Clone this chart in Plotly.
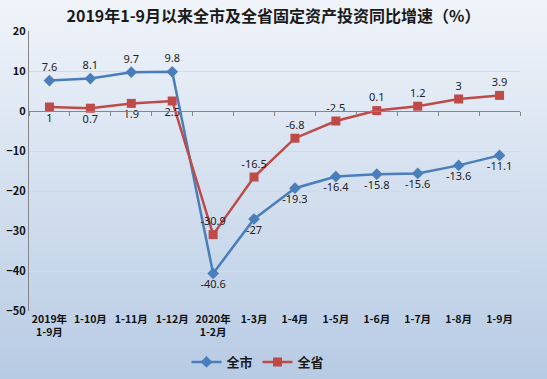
import zlib, struct, base64
import plotly.graph_objects as go

categories = ["2019年<br>1-9月", "1-10月", "1-11月", "1-12月", "2020年<br>1-2月",
              "1-3月", "1-4月", "1-5月", "1-6月", "1-7月", "1-8月", "1-9月"]
city = [7.6, 8.1, 9.7, 9.8, -40.6, -27, -19.3, -16.4, -15.8, -15.6, -13.6, -11.1]
province = [1, 0.7, 1.9, 2.5, -30.9, -16.5, -6.8, -2.5, 0.1, 1.2, 3, 3.9]
city_pos = ["top center"] * 4 + ["bottom center"] * 8
prov_pos = ["bottom center"] * 4 + ["top center"] * 8

W, H = 547, 379

# vertical gradient background as a tiny PNG
def make_png(w, h, rows):
    raw = b"".join(b"\x00" + bytes(r) for r in rows)
    def chunk(t, d):
        c = struct.pack(">I", len(d)) + t + d
        return c + struct.pack(">I", zlib.crc32(t + d) & 0xffffffff)
    return (b"\x89PNG\r\n\x1a\n" + chunk(b"IHDR", struct.pack(">IIBBBBB", w, h, 8, 2, 0, 0, 0))
            + chunk(b"IDAT", zlib.compress(raw)) + chunk(b"IEND", b""))

top = (240, 244, 250)
bot = (183, 203, 228)
rows = []
for yy in range(H):
    t = yy / (H - 1)
    c = [int(round(top[i] + (bot[i] - top[i]) * t)) for i in range(3)]
    rows.append(c * 4)
png = make_png(4, H, rows)
uri = "data:image/png;base64," + base64.b64encode(png).decode()

x0, x1 = 29 / W, 520 / W
y0, y1 = 1 - 311 / H, 1 - 31 / H
zero_pos = y0 + (50 / 70) * (y1 - y0)

font = "Noto Sans CJK SC, DejaVu Sans, sans-serif"
lbl_font = "Noto Sans, DejaVu Sans, sans-serif"

fig = go.Figure()
fig.add_trace(go.Scatter(
    x=categories, y=city, name="全市", mode="lines+markers+text",
    line=dict(color="#4A7EBB", width=2.5),
    marker=dict(symbol="diamond", size=9, color="#4A7EBB"),
    text=[str(v) for v in city], textposition=city_pos,
    textfont=dict(size=11, color="#222222", family=lbl_font),
    cliponaxis=False, xaxis="x", yaxis="y"))
fig.add_trace(go.Scatter(
    x=categories, y=province, name="全省", mode="lines+markers+text",
    line=dict(color="#BE4B48", width=2.5),
    marker=dict(symbol="square", size=9, color="#BE4B48"),
    text=[str(v) for v in province], textposition=prov_pos,
    textfont=dict(size=11, color="#222222", family=lbl_font),
    cliponaxis=False, xaxis="x", yaxis="y"))
# ghost trace carrying the bottom category labels
fig.add_trace(go.Scatter(
    x=categories, y=city, mode="markers", marker=dict(opacity=0),
    showlegend=False, hoverinfo="skip", xaxis="x2", yaxis="y"))

fig.update_layout(
    width=W, height=H,
    margin=dict(l=0, r=0, t=0, b=0),
    paper_bgcolor="rgba(0,0,0,0)",
    plot_bgcolor="white",
    images=[dict(source=uri, xref="paper", yref="paper", x=0, y=1,
                 sizex=1, sizey=1, sizing="stretch", layer="below",
                 xanchor="left", yanchor="top")],
    title=dict(text="<b>2019年1-9月以来全市及全省固定资产投资同比增速（%）</b>",
               x=0.5, xanchor="center", y=1 - 16 / H, yanchor="middle",
               font=dict(family=font, size=16, color="#1a1a1a")),
    xaxis=dict(domain=[x0, x1], type="category", range=[-0.5, 11.5],
               anchor="free", position=zero_pos,
               showline=True, linecolor="#868686", linewidth=1,
               ticks="outside", ticklen=4, tickcolor="#868686", tickson="boundaries",
               showticklabels=False, showgrid=False, zeroline=False, automargin=False),
    xaxis2=dict(domain=[x0, x1], type="category", range=[-0.5, 11.5],
                overlaying="x", anchor="y", side="bottom", matches="x",
                showline=False, ticks="", showgrid=False, zeroline=False,
                tickfont=dict(family=font, size=10.5, color="#111111", weight="bold"),
                automargin=False),
    yaxis=dict(domain=[y0, y1], range=[-50, 20], dtick=10,
               showgrid=True, gridcolor="#D0DAE8", gridwidth=1,
               zeroline=False, showline=True, linecolor="#868686",
               ticks="", tickfont=dict(family=font, size=11, color="#111111", weight="bold"),
               automargin=False),
    legend=dict(orientation="h", x=258 / W, xanchor="center", y=1 - 362 / H, yanchor="middle",
                font=dict(family=font, size=13, color="#1a1a1a", weight="bold"),
                bgcolor="rgba(0,0,0,0)", itemwidth=30),
    showlegend=True,
)

fig.write_html("out.html", config={"displayModeBar": False},
               post_script="document.body.style.margin='0';document.body.style.padding='0';")
